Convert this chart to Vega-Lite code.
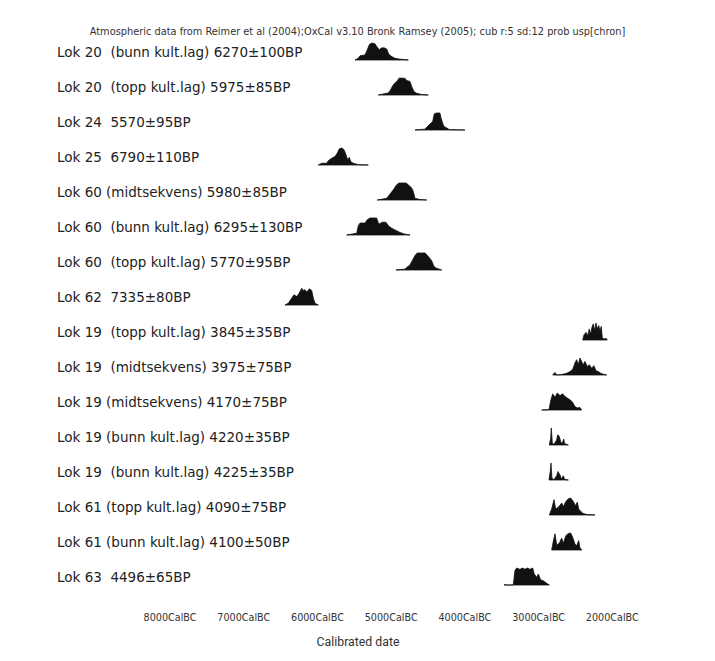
{
  "$schema": "https://vega.github.io/schema/vega-lite/v6.json",
  "padding": {"top": 26, "left": 0, "right": 0, "bottom": 0},
  "background": "white",
  "title": {
    "text": "Atmospheric data from Reimer et al (2004);OxCal v3.10 Bronk Ramsey (2005); cub r:5 sd:12 prob usp[chron]",
    "font": "Liberation Sans Narrow, DejaVu Sans Condensed, sans-serif",
    "fontSize": 10.9, "fontWeight": "normal", "color": "#333", "offset": 2, "anchor": "middle"
  },
  "datasets": {
    "labels": [
      {"id": 1, "label": "Lok 20\u00a0 (bunn kult.lag) 6270±100BP"},
      {"id": 2, "label": "Lok 20\u00a0 (topp kult.lag) 5975±85BP"},
      {"id": 3, "label": "Lok 24\u00a0 5570±95BP"},
      {"id": 4, "label": "Lok 25\u00a0 6790±110BP"},
      {"id": 5, "label": "Lok 60 (midtsekvens) 5980±85BP"},
      {"id": 6, "label": "Lok 60\u00a0 (bunn kult.lag) 6295±130BP"},
      {"id": 7, "label": "Lok 60\u00a0 (topp kult.lag) 5770±95BP"},
      {"id": 8, "label": "Lok 62\u00a0 7335±80BP"},
      {"id": 9, "label": "Lok 19\u00a0 (topp kult.lag) 3845±35BP"},
      {"id": 10, "label": "Lok 19\u00a0 (midtsekvens) 3975±75BP"},
      {"id": 11, "label": "Lok 19 (midtsekvens) 4170±75BP"},
      {"id": 12, "label": "Lok 19 (bunn kult.lag) 4220±35BP"},
      {"id": 13, "label": "Lok 19\u00a0 (bunn kult.lag) 4225±35BP"},
      {"id": 14, "label": "Lok 61 (topp kult.lag) 4090±75BP"},
      {"id": 15, "label": "Lok 61 (bunn kult.lag) 4100±50BP"},
      {"id": 16, "label": "Lok 63\u00a0 4496±65BP"}
    ]
  },
  "data": {"values": [
    {"id":1,"year":5484,"p":0},{"id":1,"year":5439,"p":0.1},{"id":1,"year":5416,"p":0.25},{"id":1,"year":5348,"p":0.3},{"id":1,"year":5317,"p":0.6},{"id":1,"year":5290,"p":0.9},{"id":1,"year":5258,"p":1},{"id":1,"year":5213,"p":0.95},{"id":1,"year":5182,"p":0.75},{"id":1,"year":5155,"p":0.6},{"id":1,"year":5127,"p":0.7},{"id":1,"year":5091,"p":0.72},{"id":1,"year":5054,"p":0.65},{"id":1,"year":5027,"p":0.35},{"id":1,"year":4986,"p":0.2},{"id":1,"year":4942,"p":0.1},{"id":1,"year":4874,"p":0.05},{"id":1,"year":4761,"p":0},
    {"id":2,"year":5168,"p":0},{"id":2,"year":5032,"p":0.12},{"id":2,"year":5009,"p":0.25},{"id":2,"year":4964,"p":0.6},{"id":2,"year":4918,"p":0.8},{"id":2,"year":4883,"p":1},{"id":2,"year":4806,"p":0.98},{"id":2,"year":4783,"p":0.85},{"id":2,"year":4738,"p":0.8},{"id":2,"year":4715,"p":0.5},{"id":2,"year":4684,"p":0.2},{"id":2,"year":4647,"p":0.1},{"id":2,"year":4579,"p":0.03},{"id":2,"year":4490,"p":0},
    {"id":3,"year":4670,"p":0},{"id":3,"year":4534,"p":0.05},{"id":3,"year":4503,"p":0.2},{"id":3,"year":4467,"p":0.35},{"id":3,"year":4430,"p":0.5},{"id":3,"year":4408,"p":0.95},{"id":3,"year":4376,"p":1},{"id":3,"year":4331,"p":1},{"id":3,"year":4317,"p":0.7},{"id":3,"year":4294,"p":0.4},{"id":3,"year":4277,"p":0.2},{"id":3,"year":4250,"p":0.15},{"id":3,"year":4218,"p":0.06},{"id":3,"year":4195,"p":0.02},{"id":3,"year":3992,"p":0},
    {"id":4,"year":5982,"p":0},{"id":4,"year":5936,"p":0.1},{"id":4,"year":5868,"p":0.1},{"id":4,"year":5846,"p":0.25},{"id":4,"year":5800,"p":0.4},{"id":4,"year":5755,"p":0.5},{"id":4,"year":5724,"p":0.7},{"id":4,"year":5697,"p":0.95},{"id":4,"year":5664,"p":1},{"id":4,"year":5633,"p":0.9},{"id":4,"year":5606,"p":0.6},{"id":4,"year":5583,"p":0.3},{"id":4,"year":5561,"p":0.45},{"id":4,"year":5542,"p":0.2},{"id":4,"year":5507,"p":0.1},{"id":4,"year":5439,"p":0.02},{"id":4,"year":5304,"p":0},
    {"id":5,"year":5181,"p":0},{"id":5,"year":5054,"p":0.1},{"id":5,"year":5009,"p":0.35},{"id":5,"year":4964,"p":0.6},{"id":5,"year":4918,"p":0.9},{"id":5,"year":4883,"p":1},{"id":5,"year":4792,"p":1},{"id":5,"year":4761,"p":0.9},{"id":5,"year":4715,"p":0.7},{"id":5,"year":4693,"p":0.5},{"id":5,"year":4670,"p":0.1},{"id":5,"year":4602,"p":0.03},{"id":5,"year":4511,"p":0},
    {"id":6,"year":5597,"p":0},{"id":6,"year":5461,"p":0.1},{"id":6,"year":5439,"p":0.55},{"id":6,"year":5416,"p":0.7},{"id":6,"year":5348,"p":0.7},{"id":6,"year":5317,"p":0.9},{"id":6,"year":5281,"p":1},{"id":6,"year":5190,"p":1},{"id":6,"year":5168,"p":0.7},{"id":6,"year":5145,"p":0.65},{"id":6,"year":5122,"p":0.75},{"id":6,"year":5064,"p":0.75},{"id":6,"year":5032,"p":0.55},{"id":6,"year":4986,"p":0.4},{"id":6,"year":4942,"p":0.3},{"id":6,"year":4874,"p":0.15},{"id":6,"year":4806,"p":0.05},{"id":6,"year":4738,"p":0},
    {"id":7,"year":4928,"p":0},{"id":7,"year":4806,"p":0.05},{"id":7,"year":4783,"p":0.15},{"id":7,"year":4738,"p":0.3},{"id":7,"year":4701,"p":0.6},{"id":7,"year":4670,"p":0.85},{"id":7,"year":4639,"p":1},{"id":7,"year":4534,"p":1},{"id":7,"year":4490,"p":0.8},{"id":7,"year":4444,"p":0.55},{"id":7,"year":4412,"p":0.2},{"id":7,"year":4376,"p":0.1},{"id":7,"year":4308,"p":0},
    {"id":8,"year":6434,"p":0},{"id":8,"year":6389,"p":0.1},{"id":8,"year":6343,"p":0.4},{"id":8,"year":6312,"p":0.6},{"id":8,"year":6275,"p":0.5},{"id":8,"year":6240,"p":0.7},{"id":8,"year":6207,"p":0.98},{"id":8,"year":6185,"p":0.85},{"id":8,"year":6162,"p":0.9},{"id":8,"year":6139,"p":0.75},{"id":8,"year":6104,"p":0.95},{"id":8,"year":6071,"p":0.85},{"id":8,"year":6049,"p":0.4},{"id":8,"year":6027,"p":0.1},{"id":8,"year":5982,"p":0},
    {"id":9,"year":2395,"p":0},{"id":9,"year":2377,"p":0.3},{"id":9,"year":2350,"p":0.45},{"id":9,"year":2327,"p":0.25},{"id":9,"year":2306,"p":0.65},{"id":9,"year":2287,"p":0.35},{"id":9,"year":2269,"p":0.75},{"id":9,"year":2251,"p":0.95},{"id":9,"year":2232,"p":0.55},{"id":9,"year":2215,"p":1},{"id":9,"year":2197,"p":0.65},{"id":9,"year":2178,"p":0.85},{"id":9,"year":2160,"p":0.55},{"id":9,"year":2143,"p":0.8},{"id":9,"year":2129,"p":0.15},{"id":9,"year":2106,"p":0.05},{"id":9,"year":2079,"p":0.1},{"id":9,"year":2061,"p":0},
    {"id":10,"year":2802,"p":0},{"id":10,"year":2771,"p":0.15},{"id":10,"year":2748,"p":0},{"id":10,"year":2680,"p":0.03},{"id":10,"year":2612,"p":0.1},{"id":10,"year":2567,"p":0.2},{"id":10,"year":2531,"p":0.33},{"id":10,"year":2500,"p":0.7},{"id":10,"year":2477,"p":0.9},{"id":10,"year":2455,"p":0.6},{"id":10,"year":2432,"p":1},{"id":10,"year":2409,"p":0.8},{"id":10,"year":2387,"p":0.6},{"id":10,"year":2364,"p":0.8},{"id":10,"year":2333,"p":0.5},{"id":10,"year":2306,"p":0.6},{"id":10,"year":2273,"p":0.4},{"id":10,"year":2242,"p":0.55},{"id":10,"year":2215,"p":0.25},{"id":10,"year":2183,"p":0.2},{"id":10,"year":2151,"p":0.1},{"id":10,"year":2115,"p":0.05},{"id":10,"year":2070,"p":0},
    {"id":11,"year":2951,"p":0},{"id":11,"year":2860,"p":0.02},{"id":11,"year":2848,"p":0.1},{"id":11,"year":2829,"p":0.55},{"id":11,"year":2802,"p":0.95},{"id":11,"year":2771,"p":0.75},{"id":11,"year":2740,"p":1},{"id":11,"year":2703,"p":0.85},{"id":11,"year":2667,"p":0.95},{"id":11,"year":2635,"p":0.8},{"id":11,"year":2604,"p":0.7},{"id":11,"year":2567,"p":0.6},{"id":11,"year":2531,"p":0.45},{"id":11,"year":2500,"p":0.2},{"id":11,"year":2468,"p":0.12},{"id":11,"year":2432,"p":0.15},{"id":11,"year":2409,"p":0},
    {"id":12,"year":2848,"p":0},{"id":12,"year":2829,"p":0.4},{"id":12,"year":2821,"p":1},{"id":12,"year":2807,"p":0.1},{"id":12,"year":2784,"p":0.04},{"id":12,"year":2748,"p":0.3},{"id":12,"year":2734,"p":0.6},{"id":12,"year":2712,"p":0.5},{"id":12,"year":2694,"p":0.2},{"id":12,"year":2672,"p":0.08},{"id":12,"year":2653,"p":0.35},{"id":12,"year":2639,"p":0.08},{"id":12,"year":2590,"p":0},
    {"id":13,"year":2852,"p":0},{"id":13,"year":2835,"p":0.5},{"id":13,"year":2825,"p":1},{"id":13,"year":2812,"p":0.1},{"id":13,"year":2784,"p":0.02},{"id":13,"year":2748,"p":0.25},{"id":13,"year":2730,"p":0.5},{"id":13,"year":2703,"p":0.3},{"id":13,"year":2685,"p":0.06},{"id":13,"year":2658,"p":0.25},{"id":13,"year":2639,"p":0.03},{"id":13,"year":2590,"p":0},
    {"id":14,"year":2848,"p":0},{"id":14,"year":2816,"p":0.35},{"id":14,"year":2784,"p":0.9},{"id":14,"year":2761,"p":0.35},{"id":14,"year":2726,"p":0.45},{"id":14,"year":2680,"p":0.7},{"id":14,"year":2658,"p":0.5},{"id":14,"year":2622,"p":0.8},{"id":14,"year":2590,"p":0.95},{"id":14,"year":2558,"p":1},{"id":14,"year":2522,"p":0.8},{"id":14,"year":2495,"p":0.55},{"id":14,"year":2468,"p":0.75},{"id":14,"year":2449,"p":0.35},{"id":14,"year":2432,"p":0.27},{"id":14,"year":2395,"p":0.1},{"id":14,"year":2341,"p":0.03},{"id":14,"year":2228,"p":0},
    {"id":15,"year":2816,"p":0},{"id":15,"year":2794,"p":0.5},{"id":15,"year":2771,"p":0.95},{"id":15,"year":2748,"p":0.3},{"id":15,"year":2712,"p":0.4},{"id":15,"year":2680,"p":0.7},{"id":15,"year":2658,"p":0.4},{"id":15,"year":2622,"p":0.85},{"id":15,"year":2590,"p":0.97},{"id":15,"year":2558,"p":1},{"id":15,"year":2531,"p":0.75},{"id":15,"year":2500,"p":0.35},{"id":15,"year":2477,"p":0.25},{"id":15,"year":2449,"p":0.55},{"id":15,"year":2432,"p":0.12},{"id":15,"year":2405,"p":0},
    {"id":16,"year":3463,"p":0},{"id":16,"year":3450,"p":0.04},{"id":16,"year":3436,"p":0},{"id":16,"year":3337,"p":0},{"id":16,"year":3314,"p":0.85},{"id":16,"year":3291,"p":1},{"id":16,"year":3246,"p":0.92},{"id":16,"year":3209,"p":1},{"id":16,"year":3178,"p":0.92},{"id":16,"year":3147,"p":1},{"id":16,"year":3110,"p":0.92},{"id":16,"year":3073,"p":1},{"id":16,"year":3052,"p":0.65},{"id":16,"year":3019,"p":0.45},{"id":16,"year":2997,"p":0.65},{"id":16,"year":2965,"p":0.3},{"id":16,"year":2929,"p":0.25},{"id":16,"year":2884,"p":0.1},{"id":16,"year":2848,"p":0}
  ]},
  "transform": [
    {"lookup": "id", "from": {"data": {"name": "labels"}, "key": "id", "fields": ["label"]}}
  ],
  "facet": {"row": {"field": "id", "type": "ordinal", "header": null}},
  "spacing": 0,
  "spec": {
    "width": 715,
    "height": 35,
    "layer": [
      {
        "mark": {"type": "area", "color": "#111", "stroke": "#111", "strokeWidth": 0.8, "interpolate": "linear"},
        "encoding": {
          "x": {
            "field": "year", "type": "quantitative",
            "scale": {"domain": [600, 10300], "reverse": true, "nice": false, "zero": false},
            "axis": {
              "values": [8000, 7000, 6000, 5000, 4000, 3000, 2000],
              "labelExpr": "datum.value + 'CalBC'",
              "domain": false, "ticks": false, "grid": false,
              "labelFont": "Liberation Sans Narrow, DejaVu Sans Condensed, sans-serif",
              "labelFontSize": 10.7, "labelColor": "#333", "labelPadding": 13,
              "title": "Calibrated date", "titleFont": "Roboto", "titleFontSize": 12.3,
              "titleFontWeight": "normal", "titleColor": "#333", "titlePadding": 14
            }
          },
          "y": {
            "field": "p", "type": "quantitative",
            "scale": {"domain": [-0.8235, 1.2353], "nice": false, "zero": false},
            "axis": null
          },
          "y2": {"datum": 0}
        }
      },
      {
        "transform": [{"aggregate": [{"op": "count", "as": "n"}], "groupby": ["label"]}],
        "mark": {"type": "text", "align": "left", "baseline": "middle", "font": "DejaVu Sans", "fontSize": 13.5, "color": "#222"},
        "encoding": {
          "x": {"datum": 9527, "type": "quantitative"},
          "y": {"datum": 0.41, "type": "quantitative"},
          "text": {"field": "label"}
        }
      }
    ]
  },
  "config": {"view": {"stroke": null}}
}
